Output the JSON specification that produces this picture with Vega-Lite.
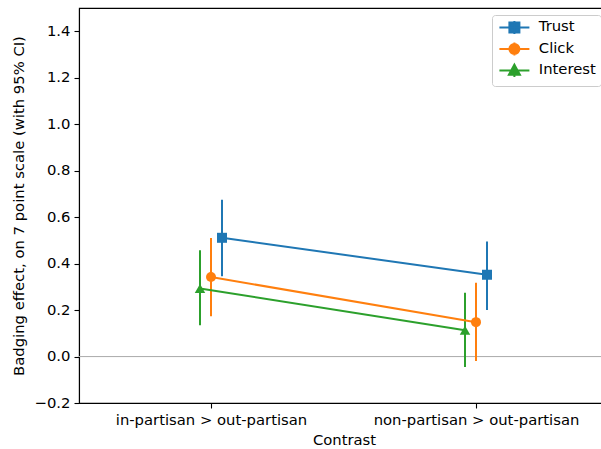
{
  "$schema": "https://vega.github.io/schema/vega-lite/v6.json",
  "width": 530,
  "height": 395,
  "autosize": {"type": "none"},
  "padding": {"left": 79, "top": 8, "right": 0, "bottom": 46},
  "background": "white",
  "config": {
    "font": "DejaVu Sans",
    "view": {"stroke": "black", "strokeWidth": 1.1},
    "axis": {
      "labelFont": "DejaVu Sans", "titleFont": "DejaVu Sans",
      "labelFontSize": 14.8, "titleFontSize": 14.8, "labelColor": "black", "titleColor": "black",
      "titleFontWeight": "normal", "domainColor": "black", "tickColor": "black",
      "domainWidth": 1.1, "tickWidth": 1.1, "tickSize": 5, "labelPadding": 4, "grid": false, "labelLimit": 400
    },
    "legend": {"labelFont": "DejaVu Sans", "labelFontSize": 14.8, "labelColor": "black"}
  },
  "data": {"values": [
    {"contrast": "in-partisan > out-partisan", "series": "Trust", "est": 0.511, "lo": 0.345, "hi": 0.675},
    {"contrast": "in-partisan > out-partisan", "series": "Click", "est": 0.342, "lo": 0.173, "hi": 0.51},
    {"contrast": "in-partisan > out-partisan", "series": "Interest", "est": 0.293, "lo": 0.135, "hi": 0.457},
    {"contrast": "non-partisan > out-partisan", "series": "Trust", "est": 0.352, "lo": 0.2, "hi": 0.495},
    {"contrast": "non-partisan > out-partisan", "series": "Click", "est": 0.148, "lo": -0.019, "hi": 0.318},
    {"contrast": "non-partisan > out-partisan", "series": "Interest", "est": 0.113, "lo": -0.045, "hi": 0.275}
  ]},
  "encoding": {
    "x": {"field": "contrast", "type": "nominal", "title": "Contrast",
      "scale": {"paddingInner": 0, "paddingOuter": 0},
      "axis": {"labelAngle": 0, "titlePadding": 6, "labelFontSize": 14.8, "titleFontSize": 14.8, "labelLimit": 400}},
    "xOffset": {"field": "series", "type": "nominal",
      "scale": {"type": "point", "domain": ["Interest", "Click", "Trust"], "range": [121, 143], "padding": 0}},
    "color": {"field": "series", "type": "nominal", "title": null,
      "scale": {"domain": ["Trust", "Click", "Interest"], "range": ["#1f77b4", "#ff7f0e", "#2ca02c"]},
      "legend": {"orient": "none", "legendX": 413, "legendY": 7, "padding": 5, "strokeColor": "#cccccc",
        "fillColor": "white", "cornerRadius": 3, "labelFontSize": 14.8, "symbolSize": 100, "rowPadding": -0.5,
        "labelOffset": 17, "symbolOffset": 10, "symbolStrokeWidth": 2, "symbolType": "square",
        "encode": {"symbols": {"update": {
          "shape": {"signal": "datum.value == 'Trust' ? 'M-3,0H3M0,-1.3V1.3M-1,-1H1V1H-1Z' : datum.value == 'Click' ? 'M-3,0H3M0,-1.3V1.3M-1,0A1,1 0 1,0 1,0A1,1 0 1,0 -1,0Z' : 'M-3,0H3M0,-1.3V1.3M0,-1.15L1.1,0.85L-1.1,0.85Z'"},
          "fill": {"scale": "color", "field": "value"},
          "stroke": {"scale": "color", "field": "value"},
          "strokeWidth": {"value": 2},
          "opacity": {"value": 1}
        }}}}}
  },
  "layer": [
    {
      "mark": {"type": "rule", "color": "#b0b0b0", "strokeWidth": 1},
      "encoding": {"y": {"datum": 0, "type": "quantitative"}, "x": null, "xOffset": null, "color": null}
    },
    {
      "mark": {"type": "rule", "strokeWidth": 2},
      "encoding": {
        "y": {"field": "lo", "type": "quantitative",
          "title": "Badging effect, on 7 point scale (with 95% CI)",
          "scale": {"domain": [-0.2, 1.5], "nice": false, "zero": false},
          "axis": {"values": [-0.2, 0, 0.2, 0.4, 0.6, 0.8, 1.0, 1.2, 1.4], "format": ".1f", "titlePadding": 8, "labelFontSize": 14.8, "titleFontSize": 14.8}},
        "y2": {"field": "hi"}
      }
    },
    {
      "mark": {"type": "line", "strokeWidth": 2},
      "encoding": {
        "y": {"field": "est", "type": "quantitative"},
        "detail": {"field": "series"}
      }
    },
    {
      "transform": [{"filter": "datum.series == 'Trust'"}],
      "mark": {"type": "point", "filled": true, "opacity": 1, "size": 100, "shape": "square"},
      "encoding": {"y": {"field": "est", "type": "quantitative"}}
    },
    {
      "transform": [{"filter": "datum.series == 'Click'"}],
      "mark": {"type": "point", "filled": true, "opacity": 1, "size": 100, "shape": "circle"},
      "encoding": {"y": {"field": "est", "type": "quantitative"}}
    },
    {
      "transform": [{"filter": "datum.series == 'Interest'"}],
      "mark": {"type": "point", "filled": true, "opacity": 1, "size": 110, "shape": "triangle-up"},
      "encoding": {"y": {"field": "est", "type": "quantitative"}}
    }
  ]
}
